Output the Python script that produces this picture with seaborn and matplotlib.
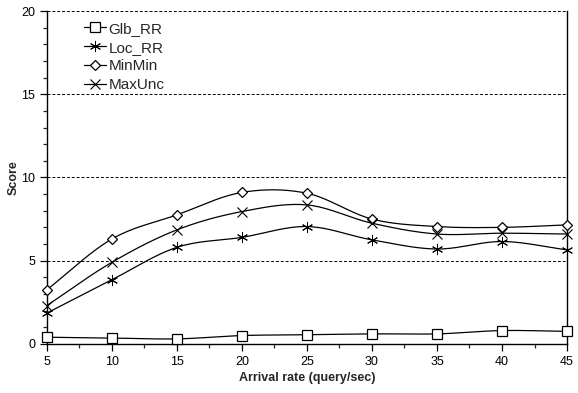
import numpy as np
import pandas as pd
import matplotlib
matplotlib.use("Agg")
import matplotlib.pyplot as plt
import seaborn as sns
from matplotlib.ticker import MultipleLocator

# data
rate = [5, 10, 15, 20, 25, 30, 35, 40, 45]
glb_rr = [0.4, 0.35, 0.3, 0.5, 0.55, 0.6, 0.6, 0.8, 0.75]
loc_rr = [1.85, 3.85, 5.8, 6.4, 7.05, 6.25, 5.7, 6.15, 5.65]
minmin = [3.25, 6.3, 7.75, 9.1, 9.05, 7.5, 7.05, 7.0, 7.15]
maxunc = [2.3, 4.9, 6.85, 7.95, 8.35, 7.25, 6.6, 6.65, 6.6]

series = {"Glb_RR": glb_rr, "Loc_RR": loc_rr, "MinMin": minmin, "MaxUnc": maxunc}
markers = {"Glb_RR": "s", "Loc_RR": (6, 2, 0), "MinMin": "D", "MaxUnc": "x"}
msizes = {"Glb_RR": 7.5, "Loc_RR": 8, "MinMin": 5.5, "MaxUnc": 7.5}
mwidth = {"Glb_RR": 0.9, "Loc_RR": 0.7, "MinMin": 0.9, "MaxUnc": 0.8}

sns.set_style("ticks")
plt.rcParams["font.family"] = ["Liberation Sans", "DejaVu Sans"]


def smooth(x, y, n=20):
    # catmull-rom curve through the points, like excel's smoothed line
    x = np.asarray(x, float)
    y = np.asarray(y, float)
    px = np.concatenate([[2 * x[0] - x[1]], x, [2 * x[-1] - x[-2]]])
    py = np.concatenate([[2 * y[0] - y[1]], y, [2 * y[-1] - y[-2]]])
    ox, oy = [], []
    t = np.linspace(0, 1, n, endpoint=False)
    for i in range(1, len(px) - 2):
        for p, o in ((px, ox), (py, oy)):
            p0, p1, p2, p3 = p[i - 1], p[i], p[i + 1], p[i + 2]
            o.extend(0.5 * (2 * p1 + (-p0 + p2) * t
                            + (2 * p0 - 5 * p1 + 4 * p2 - p3) * t ** 2
                            + (-p0 + 3 * p1 - 3 * p2 + p3) * t ** 3))
    ox.append(x[-1])
    oy.append(y[-1])
    return np.array(ox), np.array(oy)


fig, ax = plt.subplots(figsize=(5.78, 3.93), dpi=100)
fig.subplots_adjust(left=0.081, right=0.981, top=0.972, bottom=0.125)

for name, vals in series.items():
    sx, sy = smooth(rate, vals)
    sns.lineplot(x=sx, y=sy, ax=ax, color="black", linewidth=0.9, sort=False)
    df = pd.DataFrame({"rate": rate, "score": vals})
    ax.plot(df["rate"], df["score"], linestyle="none", marker=markers[name],
            markersize=msizes[name], markerfacecolor="white",
            markeredgecolor="black", markeredgewidth=mwidth[name], zorder=3,
            clip_on=False)
    ax.plot([], [], color="black", linewidth=0.9, marker=markers[name],
            markersize=msizes[name], markerfacecolor="white",
            markeredgecolor="black", markeredgewidth=mwidth[name], label=name)

ax.set_xlim(5, 45)
ax.set_ylim(0, 20)
ax.xaxis.set_major_locator(MultipleLocator(5))
ax.xaxis.set_minor_locator(MultipleLocator(2.5))
ax.yaxis.set_major_locator(MultipleLocator(5))
ax.yaxis.set_minor_locator(MultipleLocator(1))
ax.tick_params(which="major", length=5, width=0.9, labelsize=9, colors="black")
ax.tick_params(which="minor", length=3, width=0.9)
ax.grid(axis="y", which="major", linestyle=(0, (3, 2)), color="black", linewidth=0.7)

for s in ["left", "bottom", "right"]:
    ax.spines[s].set_color("black")
    ax.spines[s].set_linewidth(1.0)
ax.spines["top"].set_visible(False)

ax.set_xlabel("Arrival rate (query/sec)", fontsize=9, fontweight="bold", labelpad=3)
ax.set_ylabel("Score", fontsize=9, fontweight="bold", labelpad=1)

ax.legend(loc="upper left", bbox_to_anchor=(0.05, 1.0), frameon=False, fontsize=11,
          handlelength=1.5, handletextpad=0.15, labelspacing=0.32, borderaxespad=0.3)

fig.savefig("out.png", dpi=100)
